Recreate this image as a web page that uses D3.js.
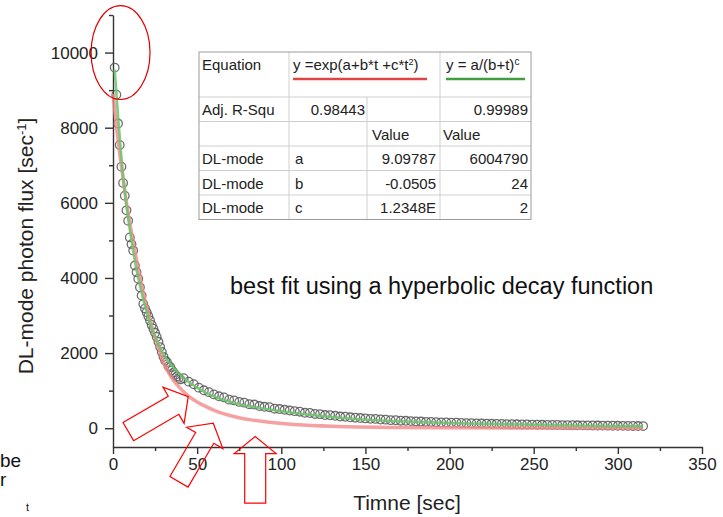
<!DOCTYPE html>
<html>
<head>
<meta charset="utf-8">
<script src="https://cdn.jsdelivr.net/npm/d3@7"></script>
<style>
  body { margin: 0; background: #fff; }
  svg { display: block; font-family: "Liberation Sans", Arial, sans-serif; }
  .axis path, .axis line { stroke: #333; stroke-width: 1.4; }
  .axis text { fill: #222; font-size: 17px; font-family: "Liberation Sans", Arial, sans-serif; }
  .tbl text { font-size: 15px; fill: #222; }
</style>
</head>
<body>
<div id="chart"></div>
<script>
var width = 723, height = 517;

// measured photon flux (grey circles)
var dataTime = [1,2,3,4,5,6,7,8,9,10,11,12,13,14,15,16,17,18,19,20,21,22,23,24,25,26,27,28,29,30,
  31,32,33,34,35,36,37,38,39,40,42,45,48,51,54,57,60,63,66,69,72,75,78,81,84,87,90,93,96,99,102,105,108,111,
  114,117,120,123,126,129,132,135,138,141,144,147,150,153,156,159,162,165,168,171,174,177,180,183,186,189,
  192,195,198,201,204,207,210,213,216,219,222,225,228,231,234,237,240,243,246,249,252,255,258,261,264,267,
  270,273,276,279,282,285,288,291,294,297,300,303,306,309,312,315];
var dataFlux = [9600,8880,8110,7540,6960,6530,6190,5800,5520,5080,4900,4730,4330,4150,3980,3750,3530,3310,3190,3090,
  2980,2870,2750,2650,2540,2430,2300,2160,2030,1900,1800,1760,1650,1630,1540,1480,1420,1380,1340,1300,
  1330,1240,1170,1080,1010,960,900,850,820,760,740,700,680,640,630,590,570,560,520,510,490,470,455,440,
  410,405,380,375,350,345,330,310,305,290,280,270,262,250,248,232,228,215,212,200,198,190,182,178,170,168,
  160,155,152,146,145,140,134,132,128,124,122,118,116,112,110,106,104,100,99,96,94,91,90,87,86,83,
  82,80,78,76,75,73,71,70,68,66,65,63,62,60,58,56];

// exp(a+b*t+c*t^2) fit (red)
var expTime = [0,2,4,6,8,10,12,15,18,21,24,27,30,33,36,40,45,50,55,62,73,83,93,113,140,170,200,250,315];
var expFlux = [8900,8050,7300,6650,6000,5450,4950,4250,3600,3050,2550,2150,1750,1480,1270,1060,850,700,580,440,300,215,160,85,38,18,10,5,3];

// a/(b+t)^c fit (green)
var hypTime = [1,3,5,7,9,11,13,16,19,22,25,28,31,34,37,41,45,50,55,62,73,83,93,113,140,170,200,242,270,300,315];
var hypFlux = [9550,8300,7200,6300,5600,5000,4450,3800,3250,2800,2450,2150,1900,1720,1560,1380,1230,1080,950,810,660,570,500,380,260,185,140,98,75,55,50];

var xMajor = [0,50,100,150,200,250,300,350];
var xMinor = [25,75,125,175,225,275,325];
var yMajor = [0,2000,4000,6000,8000,10000];
var yMinor = [1000,3000,5000,7000,9000,11000];

// fit table
var tableRows = [
  ["Adj. R-Squ", "0.98443", "", "0.99989"],
  ["", "", "Value", "Value"],
  ["DL-mode", "a", "9.09787", "6004790"],
  ["DL-mode", "b", "-0.0505", "24"],
  ["DL-mode", "c", "1.2348E", "2"]
];

var svg = d3.select("#chart").append("svg")
    .attr("width", width)
    .attr("height", height);

var x = d3.scaleLinear().domain([0, 350]).range([113, 702]);
var y = d3.scaleLinear().domain([-500, 11000]).range([447, 15]);

// axes
var gx = svg.append("g").attr("class", "axis").attr("transform", "translate(0,447)");
gx.call(d3.axisBottom(x).tickValues(xMajor).tickSize(7).tickSizeOuter(0).tickPadding(4));
gx.append("g").call(d3.axisBottom(x).tickValues(xMinor).tickSize(4).tickFormat(""))
  .select(".domain").remove();

var gy = svg.append("g").attr("class", "axis").attr("transform", "translate(113,0)");
gy.call(d3.axisLeft(y).tickValues(yMajor).tickFormat(d3.format("d")).tickSize(8).tickSizeOuter(0).tickPadding(7));
gy.append("g").call(d3.axisLeft(y).tickValues(yMinor).tickSize(4).tickFormat(""))
  .select(".domain").remove();

svg.append("text")
    .attr("transform", "translate(33,246) rotate(-90)")
    .attr("text-anchor", "middle")
    .style("font-size", "21px")
    .style("fill", "#222")
    .text("DL-mode photon flux [sec")
  .append("tspan").attr("baseline-shift", "super").style("font-size", "13px").text("-1")
  .select(function() { return this.parentNode; })
  .append("tspan").text("]");

svg.append("text")
    .attr("x", 407).attr("y", 510)
    .attr("text-anchor", "middle")
    .style("font-size", "21px")
    .style("fill", "#222")
    .text("Timne [sec]");

// data circles
svg.append("g").selectAll("circle")
    .data(dataTime)
  .enter().append("circle")
    .attr("cx", function(d) { return x(d); })
    .attr("cy", function(d, i) { return y(dataFlux[i]); })
    .attr("r", 4.3)
    .attr("fill", "none")
    .attr("stroke", "#555")
    .attr("stroke-opacity", 0.85)
    .attr("stroke-width", 1.3);

var line = d3.line().curve(d3.curveMonotoneX);

svg.append("path")
    .attr("d", line(expTime.map(function(t, i) { return [x(t), y(expFlux[i])]; })))
    .attr("fill", "none")
    .attr("stroke", "#f28a8a")
    .attr("stroke-opacity", 0.8)
    .attr("stroke-width", 3.5);

svg.append("path")
    .attr("d", line(hypTime.map(function(t, i) { return [x(t), y(hypFlux[i])]; })))
    .attr("fill", "none")
    .attr("stroke", "#6cc46c")
    .attr("stroke-opacity", 0.85)
    .attr("stroke-width", 2.6);

// table
var tbl = svg.append("g").attr("class", "tbl");
var colX = [199, 289, 367, 440, 531];
var rowY = [52, 97, 121.5, 146, 170.5, 195, 219.5];

rowY.slice(1, -1).forEach(function(ry) {
  tbl.append("line").attr("x1", colX[0]).attr("x2", colX[4]).attr("y1", ry).attr("y2", ry)
    .attr("stroke", "#cfcfcf");
});
tbl.append("line").attr("x1", colX[1]).attr("x2", colX[1]).attr("y1", rowY[0]).attr("y2", rowY[6]).attr("stroke", "#cfcfcf");
tbl.append("line").attr("x1", colX[2]).attr("x2", colX[2]).attr("y1", rowY[1]).attr("y2", rowY[6]).attr("stroke", "#cfcfcf");
tbl.append("line").attr("x1", colX[3]).attr("x2", colX[3]).attr("y1", rowY[0]).attr("y2", rowY[6]).attr("stroke", "#cfcfcf");
tbl.append("rect").attr("x", colX[0]).attr("y", rowY[0])
  .attr("width", colX[4] - colX[0]).attr("height", rowY[6] - rowY[0])
  .attr("fill", "none").attr("stroke", "#9a9a9a");

tbl.append("text").attr("x", 202).attr("y", 70).text("Equation");
tbl.append("text").attr("x", 293).attr("y", 70).text("y =exp(a+b*t +c*t")
  .append("tspan").attr("baseline-shift", "super").style("font-size", "9px").text("2")
  .select(function() { return this.parentNode; }).append("tspan").text(")");
tbl.append("text").attr("x", 446).attr("y", 70).text("y = a/(b+t)")
  .append("tspan").attr("baseline-shift", "super").style("font-size", "10px").text("c");
tbl.append("line").attr("x1", 293).attr("x2", 427).attr("y1", 79).attr("y2", 79)
  .attr("stroke", "#e04545").attr("stroke-width", 2.5);
tbl.append("line").attr("x1", 446).attr("x2", 525).attr("y1", 79).attr("y2", 79)
  .attr("stroke", "#3f9f3f").attr("stroke-width", 2.5);

tableRows.forEach(function(row, r) {
  var base = rowY[r + 1] + 18;
  tbl.append("text").attr("x", 202).attr("y", base).text(row[0]);
  // column 2: letters left, numbers right
  if (r === 0) tbl.append("text").attr("x", 365).attr("y", base).attr("text-anchor", "end").text(row[1]);
  else tbl.append("text").attr("x", 295).attr("y", base).text(row[1]);
  if (row[2] === "Value") tbl.append("text").attr("x", 372).attr("y", base).text(row[2]);
  else tbl.append("text").attr("x", 436).attr("y", base).attr("text-anchor", "end").text(row[2]);
  if (row[3] === "Value") tbl.append("text").attr("x", 443).attr("y", base).text(row[3]);
  else tbl.append("text").attr("x", 528).attr("y", base).attr("text-anchor", "end").text(row[3]);
});

svg.append("text")
    .attr("x", 230).attr("y", 294)
    .style("font-size", "23.5px")
    .style("fill", "#111")
    .text("best fit using a hyperbolic decay function");

// red annotations (placed in data units)
svg.append("ellipse")
    .attr("cx", x(4.5)).attr("cy", y(10000))
    .attr("rx", x(17.5) - x(0)).attr("ry", y(0) - y(1250))
    .attr("fill", "none").attr("stroke", "#e00000").attr("stroke-width", 1.2);

var arrows = [
  { tail: [9.1, -90], tip: [44.7, 839] },
  { tail: [39.2, -1426], tip: [59.6, 133] },
  { tail: [84.5, -1992], tip: [84.5, -223] }
];

arrows.forEach(function(a) {
  var x0 = x(a.tail[0]), y0 = y(a.tail[1]), x1 = x(a.tip[0]), y1 = y(a.tip[1]);
  var len = Math.hypot(x1 - x0, y1 - y0), ux = (x1 - x0) / len, uy = (y1 - y0) / len;
  var nx = -uy, ny = ux, sw = 10.5, hw = 21, hl = 17;
  var bx = x1 - ux * hl, by = y1 - uy * hl;
  var pts = [
    [x0 + nx * sw, y0 + ny * sw], [bx + nx * sw, by + ny * sw], [bx + nx * hw, by + ny * hw],
    [x1, y1],
    [bx - nx * hw, by - ny * hw], [bx - nx * sw, by - ny * sw], [x0 - nx * sw, y0 - ny * sw]
  ];
  svg.append("polygon")
    .attr("points", pts.map(function(p) { return p.join(","); }).join(" "))
    .attr("fill", "none").attr("stroke", "#ff0000").attr("stroke-width", 1.2);
});

// slide text fragments on the left edge
svg.append("text").attr("x", 0).attr("y", 467).style("font-size", "19px").style("fill", "#111").text("be");
svg.append("text").attr("x", 0).attr("y", 486).style("font-size", "19px").style("fill", "#111").text("r");
svg.append("text").attr("x", 26).attr("y", 511).style("font-size", "11px").style("fill", "#111").text("t");
</script>
</body>
</html>
